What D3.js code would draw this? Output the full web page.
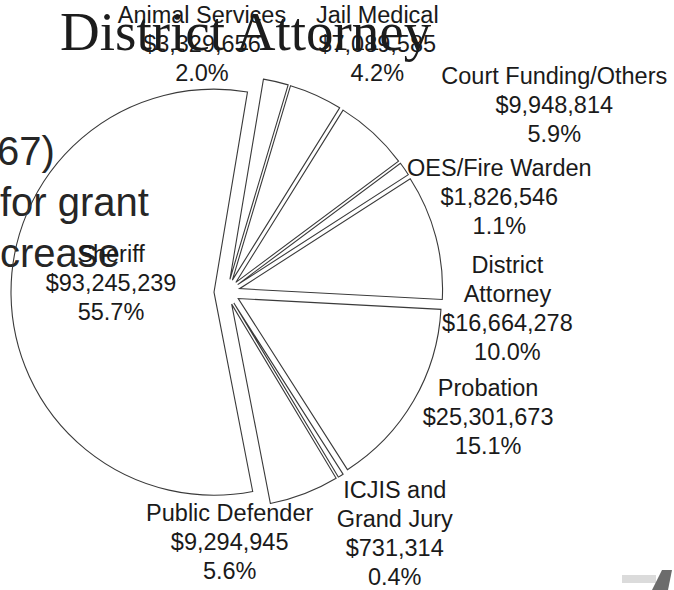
<!DOCTYPE html>
<html>
<head>
<meta charset="utf-8">
<script src="https://cdn.jsdelivr.net/npm/d3@7"></script>
<style>
  body { margin: 0; background: #fff; }
  svg { display: block; }
</style>
</head>
<body>
<svg id="chart" width="674" height="590"></svg>
<script>
// departments, clockwise from the top
const departments = [
  'Animal Services', 'Jail Medical', 'Court Funding/Others', 'OES/Fire Warden',
  'District\nAttorney', 'Probation', 'ICJIS and\nGrand Jury', 'Public Defender', 'Sheriff'
];
const budget = [
  3329656, 7089585, 9948814, 1826546,
  16664278, 25301673, 731314, 9294945, 93245239
];
// text left over from the slide behind the chart
const slideTitle = 'District Attorney';
const slideLines = ['67)', 'for grant', 'crease'];

const width = 674;
const height = 590;
const cx = 227, cy = 292;
const radius = 203;
const explode = 13;
const firstAngle = 9.5 * Math.PI / 180;
const lineH = 29;

// label nudges from the default outside position (layout only)
const labelNudge = [
  [-83, 1], [45, -15], [154, 1], [62, 50],
  [33, 82], [40, -4], [33, 23], [-89, 10], [140, -13]
];

const svg = d3.select('#chart');

// slide text sits under everything, showing through the pie
svg.append('text')
  .attr('x', 60)
  .attr('y', 50)
  .attr('font-family', '"Liberation Serif", "Times New Roman", serif')
  .attr('font-size', 55)
  .attr('fill', '#1c1c1c')
  .text(slideTitle);

svg.selectAll('.slide-line')
  .data(slideLines)
  .enter()
  .append('text')
  .attr('class', 'slide-line')
  .attr('x', (d, i) => (i === 0 ? -3 : 0))
  .attr('y', (d, i) => 165 + i * 51)
  .attr('font-family', '"Liberation Sans", Arial, sans-serif')
  .attr('font-size', 40)
  .attr('fill', '#262626')
  .text((d) => d);

const total = d3.sum(budget);
const pct = d3.format('.1%');
const money = d3.format('$,');

const pie = d3.pie()
  .sort(null)
  .startAngle(firstAngle)
  .endAngle(firstAngle + 2 * Math.PI);

const arcs = pie(budget);

const arc = d3.arc().innerRadius(0).outerRadius(radius);
const labelArc = d3.arc().innerRadius(radius + 40).outerRadius(radius + 40);

const mid = (a) => (a.startAngle + a.endAngle) / 2;

const g = svg.append('g').attr('transform', `translate(${cx},${cy})`);

g.selectAll('.slice')
  .data(arcs)
  .enter()
  .append('path')
  .attr('class', 'slice')
  .attr('transform', (d) => {
    const m = mid(d);
    return `translate(${explode * Math.sin(m)},${-explode * Math.cos(m)})`;
  })
  .attr('d', arc)
  .attr('fill', 'none')
  .attr('stroke', '#3a3a3a')
  .attr('stroke-width', 1.1)
  .attr('stroke-linejoin', 'miter');

// data labels: name, amount, share
g.selectAll('.label')
  .data(arcs)
  .enter()
  .append('text')
  .attr('class', 'label')
  .attr('font-family', '"Liberation Sans", Arial, sans-serif')
  .attr('font-size', 23.5)
  .attr('fill', '#1a1a1a')
  .attr('text-anchor', 'middle')
  .each(function (d, i) {
    const lines = departments[i].split('\n')
      .concat([money(budget[i]), pct(budget[i] / total)]);
    const c = labelArc.centroid(d);
    const m = mid(d);
    const x = c[0] + explode * Math.sin(m) + labelNudge[i][0];
    const yc = c[1] - explode * Math.cos(m) + labelNudge[i][1];
    const y0 = yc - ((lines.length - 1) * lineH) / 2 + 8.5;
    d3.select(this)
      .selectAll('tspan')
      .data(lines)
      .enter()
      .append('tspan')
      .attr('x', x)
      .attr('y', (t, k) => y0 + k * lineH)
      .text((t) => t);
  });

// small logo mark in the corner
const logo = svg.append('g').attr('opacity', 0.75);
logo.append('rect')
  .attr('x', 622).attr('y', 575).attr('width', 34).attr('height', 8)
  .attr('fill', '#cfcfcf');
logo.append('path')
  .attr('d', 'M652,590 L662,570 L672,570 L668,590 Z')
  .attr('fill', '#3c3c3c');
</script>
</body>
</html>
